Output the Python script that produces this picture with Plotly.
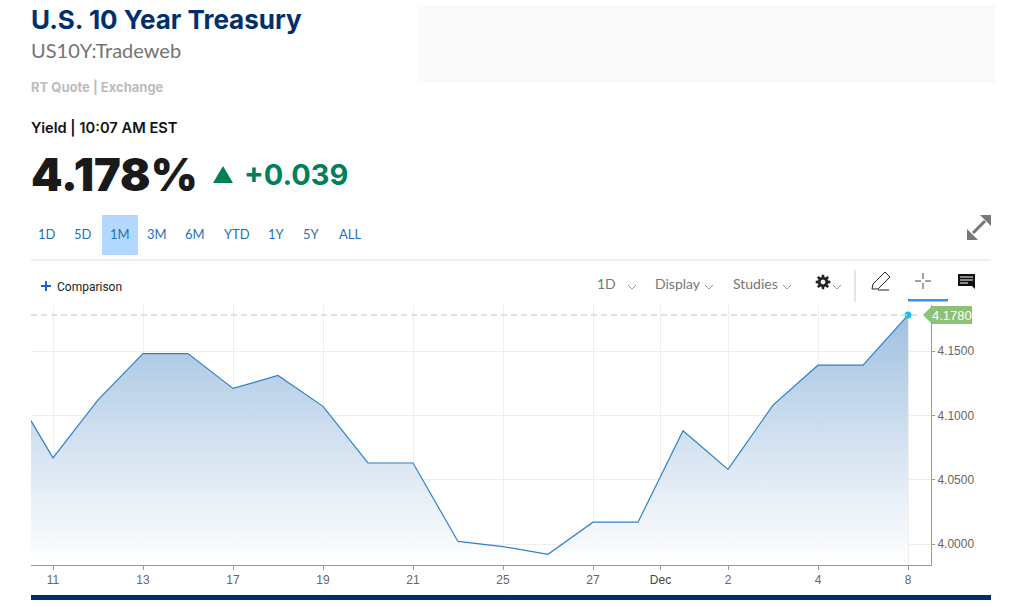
import math
import plotly.graph_objects as go

# Trading sessions, Nov 10 to Dec 8 (weekends skipped, so sessions are evenly spaced)
sessions = list(range(21))
yields = [4.126, 4.067, 4.112, 4.148, 4.148, 4.121, 4.131, 4.107, 4.063, 4.063, 4.002,
          3.998, 3.992, 4.017, 4.017, 4.088, 4.058, 4.108, 4.139, 4.139, 4.178]
tick_pos = [1, 3, 5, 7, 9, 11, 13, 14.5, 16, 18, 20]
tick_labels = ["11", "13", "17", "19", "21", "25", "27", "<span style='color:#444444'>Dec</span>",
               "2", "4", "8"]
y_ticks = [4.0, 4.05, 4.1, 4.15]
last_yield = 4.178
range_buttons = ["1D", "5D", "1M", "3M", "6M", "YTD", "1Y", "5Y", "ALL"]
button_x = [47, 83, 120, 157, 195, 237, 276, 311, 350]

# Plot box in page pixels
L, R, T, B = 31, 931, 305, 565
W, H = 1010, 606
x_range = [0.511, 20.511]
y_range = [3.9837, 4.1858]


def px(x):
    return (x - L) / (R - L)


def py(y):
    return (B - y) / (B - T)


def label(x, y, text, size, color, family="Lato", weight=400, anchor="left"):
    return dict(x=px(x), y=py(y), xref="paper", yref="paper", text=text, showarrow=False,
                xanchor=anchor, yanchor="middle", borderpad=0,
                font=dict(size=size, color=color, family=family, weight=weight))


def rect(x0, y0, x1, y1, color):
    return dict(type="rect", xref="paper", yref="paper", x0=px(x0), x1=px(x1),
                y0=py(y0), y1=py(y1), fillcolor=color, line_width=0, layer="below")


def seg(x0, y0, x1, y1, color, width=1):
    return dict(type="line", xref="paper", yref="paper", x0=px(x0), x1=px(x1),
                y0=py(y0), y1=py(y1), line=dict(color=color, width=width))


def poly(points, fill=None, color=None, width=1, close=True):
    path = "M " + " L ".join(f"{px(a):.5f} {py(b):.5f}" for a, b in points)
    if close:
        path += " Z"
    return dict(type="path", xref="paper", yref="paper", path=path,
                fillcolor=fill if fill else "rgba(0,0,0,0)",
                line=dict(color=color if color else "rgba(0,0,0,0)", width=width))


def chevron(x, y):
    return poly([(x - 4, y - 2), (x, y + 2), (x + 4, y - 2)], color="#999999", close=False)


def gear(cx, cy):
    # eight teeth, then a white hole painted on top
    pts = []
    for i in range(8):
        a = i * math.pi / 4
        for off, r in [(-0.27, 5.2), (-0.16, 7.4), (0.16, 7.4), (0.27, 5.2)]:
            pts.append((cx + r * math.cos(a + off), cy + r * math.sin(a + off)))
    hole = [(cx + 2.4 * math.cos(i * math.pi / 6), cy + 2.4 * math.sin(i * math.pi / 6))
            for i in range(12)]
    return [poly(pts, fill="#222222"), poly(hole, fill="#ffffff")]


fig = go.Figure()

# invisible floor so the gradient runs from the line down to the axis
fig.add_trace(go.Scatter(x=sessions, y=[y_range[0]] * len(sessions), mode="lines",
                         line=dict(width=0), hoverinfo="skip", showlegend=False))
fig.add_trace(go.Scatter(x=sessions, y=yields, mode="lines", fill="tonexty",
                         line=dict(color="#2f82c8", width=1.2),
                         fillgradient=dict(type="vertical",
                                           colorscale=[[0, "rgba(255,255,255,0.9)"],
                                                       [1, "rgba(160,192,224,1)"]]),
                         showlegend=False))
fig.add_trace(go.Scatter(x=[sessions[-1]], y=[yields[-1]], mode="markers",
                         marker=dict(color="#14bdfb", size=7, line_width=0), showlegend=False))

shapes = [
    rect(418, 5, 995, 83, "#fafafa"),
    rect(102, 215, 138, 255, "#b3d7ff"),
    seg(31, 260, 991, 260, "#dddddd"),
    rect(31, 595, 991, 600, "#002f6c"),
    # plus for Comparison
    seg(41, 286, 51, 286, "#1565d8", 2),
    seg(46, 281, 46, 291, "#1565d8", 2),
    # toolbar
    seg(855, 270, 855, 302, "#cccccc"),
    rect(908, 299, 948, 301.5, "#3b8cf5"),
    chevron(632, 287), chevron(709, 287), chevron(787, 287), chevron(837, 287),
    *gear(823, 282),
    # pencil
    poly([(872, 289), (873, 284), (885, 272), (890, 277), (878, 289)], color="#222222"),
    seg(878, 290, 889, 290, "#222222"),
    # crosshair
    seg(915, 281, 921, 281, "#444444"), seg(925, 281, 931, 281, "#444444"),
    seg(923, 273, 923, 279, "#444444"), seg(923, 283, 923, 289, "#444444"),
    # comment box
    poly([(958, 274), (975, 274), (975, 289), (972, 286), (958, 286)], fill="#111111"),
    seg(960, 277, 973, 277, "#ffffff"), seg(960, 280, 973, 280, "#ffffff"),
    seg(960, 283, 968, 283, "#ffffff"),
    # expand arrows
    seg(973, 233, 985, 221, "#777777", 3),
    poly([(967, 240), (967, 229), (978, 240)], fill="#777777"),
    poly([(991, 215), (991, 226), (980, 215)], fill="#777777"),
    # up triangle
    poly([(213, 183), (233, 183), (223, 166)], fill="#00805a"),
    # price flag
    poly([(923, 315), (932, 306), (972, 306), (972, 324), (932, 324)], fill="#8cc177"),
    # last value dashed line and the Dec gridline
    dict(type="line", xref="paper", yref="y", x0=0, x1=px(920), y0=last_yield, y1=last_yield,
         line=dict(color="#c8e4bf", width=1.5, dash="6px,4px")),
    dict(type="line", xref="x", yref="paper", x0=14.5, x1=14.5, y0=0, y1=1,
         line=dict(color="#cccccc", width=1), layer="below"),
]

annotations = [
    label(30, 19, "U.S. 10 Year Treasury", 26, "#002f6c", family="Inter", weight=700),
    label(30, 50, "US10Y:Tradeweb", 20, "#747474"),
    label(30, 87, "RT Quote | Exchange", 13, "#bcbcbc", family="Inter", weight=700),
    label(30, 128, "Yield | 10:07 AM EST", 14.7, "#111111", family="Inter", weight=600),
    label(30, 174, "4.178%", 45, "#1a1a1a", family="Inter", weight=900),
    label(243, 174, "+0.039", 29, "#00805a", family="Inter", weight=700),
    label(56, 287, "Comparison", 12, "#222222", family="Roboto"),
    label(606, 283, "1D", 14, "#777777", anchor="center"),
    label(678, 283, "Display", 14, "#777777", anchor="center"),
    label(755, 283, "Studies", 14, "#777777", anchor="center"),
    label(952, 315, "4.1780", 13, "#ffffff", family="Liberation Sans", anchor="center"),
]
for name, bx in zip(range_buttons, button_x):
    annotations.append(label(bx, 234, name, 13, "#1f6fbd", anchor="center"))

fig.update_layout(
    width=W, height=H, margin=dict(l=L, r=W - R, t=T, b=H - B),
    paper_bgcolor="white", plot_bgcolor="white", showlegend=False,
    shapes=shapes, annotations=annotations,
    xaxis=dict(range=x_range, tickmode="array", tickvals=tick_pos, ticktext=tick_labels,
               showgrid=True, gridcolor="#eeeeee", zeroline=False, showline=True,
               linecolor="#999999", ticks="outside", ticklen=4, tickcolor="#999999",
               tickfont=dict(size=12, color="#666666", family="Liberation Sans")),
    yaxis=dict(range=y_range, side="right", tickmode="array", tickvals=y_ticks,
               ticktext=[f"{v:.4f}" for v in y_ticks],
               showgrid=True, gridcolor="#eeeeee", zeroline=False, showline=True,
               linecolor="#999999", ticks="outside", ticklen=3, tickcolor="#999999",
               tickfont=dict(size=12, color="#666666", family="Liberation Sans")),
)

fig.write_html("out.html", config={"displayModeBar": False},
               post_script="document.body.style.margin='0';")
